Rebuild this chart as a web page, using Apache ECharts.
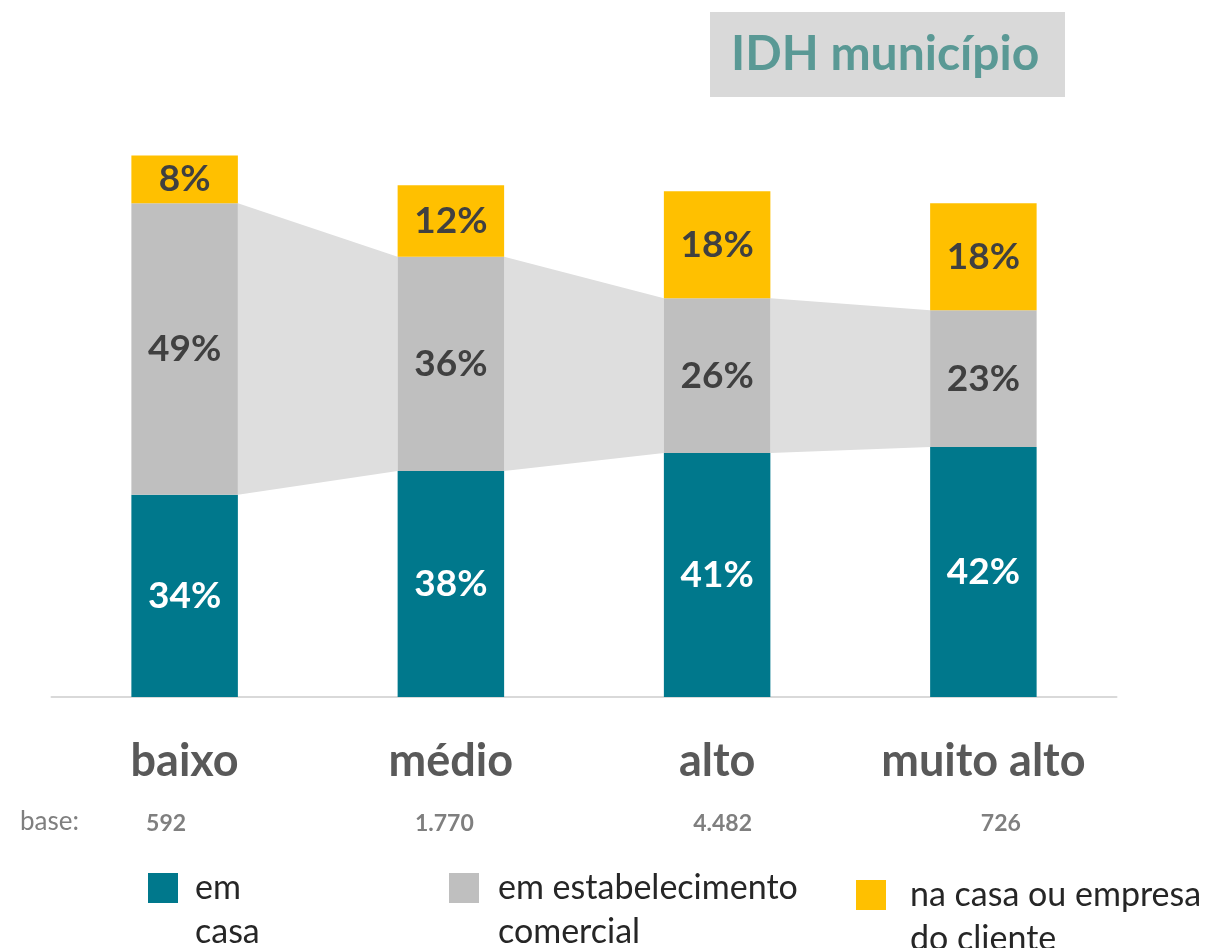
<!DOCTYPE html>
<html>
<head>
<meta charset="utf-8">
<script src="https://cdn.jsdelivr.net/npm/echarts@6/dist/echarts.min.js"></script>
<style>
  html, body { margin: 0; padding: 0; background: #fff; }
  #chart { width: 1212px; height: 948px; }
</style>
</head>
<body>
<div id="chart"></div>
<script>
// categorias (IDH do município) e bases
var categorias = ['baixo', 'médio', 'alto', 'muito alto'];
var bases = ['592', '1.770', '4.482', '726'];

// percentuais por local
var emCasa = [34, 38, 41, 42];
var emEstabelecimento = [49, 36, 26, 23];
var naCasaCliente = [8, 12, 18, 18];

var nomes = ['em casa', 'em estabelecimento comercial', 'na casa ou empresa do cliente'];
var rotulosLegenda = ['em\ncasa', 'em estabelecimento\ncomercial', 'na casa ou empresa\ndo cliente'];

var cores = ['#00788C', '#BFBFBF', '#FFC000'];
var fonte = 'Lato, "Open Sans", sans-serif';

var chart = echarts.init(document.getElementById('chart'));

// faixa cinza ligando os segmentos "em estabelecimento" de barras vizinhas
function desenhaFaixa(params, api) {
    var i = params.dataIndex;
    var hw = api.size([1, 0])[0] * 0.2;
    var a1 = api.coord([i, emCasa[i]]);
    var a2 = api.coord([i, emCasa[i] + emEstabelecimento[i]]);
    var b1 = api.coord([i + 1, emCasa[i + 1]]);
    var b2 = api.coord([i + 1, emCasa[i + 1] + emEstabelecimento[i + 1]]);
    return {
        type: 'polygon',
        shape: {
            points: [
                [a1[0] + hw, a1[1]],
                [a2[0] + hw, a2[1]],
                [b2[0] - hw, b2[1]],
                [b1[0] - hw, b1[1]]
            ]
        },
        style: { fill: '#DEDEDE' }
    };
}

// linha vazia no início: a 1a linha do texto fica alinhada ao ícone
function legenda(idx, left, top, gap) {
    return {
        data: [nomes[idx]],
        left: left,
        top: top,
        padding: 0,
        orient: 'vertical',
        itemWidth: 30,
        itemHeight: 30,
        icon: 'rect',
        selectedMode: false,
        formatter: function () { return ' \n' + rotulosLegenda[idx]; },
        textStyle: {
            fontFamily: fonte,
            fontSize: 34,
            color: '#262626',
            lineHeight: 44,
            padding: [0, 0, 0, gap]
        }
    };
}

var labelBase = {
    show: true,
    position: 'inside',
    formatter: '{c}%',
    fontFamily: fonte,
    fontWeight: 'bold',
    fontSize: 37,
    color: '#404040'
};

var option = {
    backgroundColor: '#ffffff',
    animation: false,
    grid: [
        { left: 51.5, right: 95.5, top: 102, bottom: 251 },
        { left: 27, right: 72, top: 800, height: 1 }
    ],
    xAxis: [{
        type: 'category',
        gridIndex: 0,
        data: categorias,
        axisLine: { lineStyle: { color: '#D9D9D9', width: 2 } },
        axisTick: { show: false },
        axisLabel: {
            margin: 39,
            fontFamily: fonte,
            fontWeight: 'bold',
            fontSize: 45,
            lineHeight: 50,
            color: '#595959'
        }
    }, {
        type: 'category',
        gridIndex: 1,
        data: bases,
        axisLine: { show: false },
        axisTick: { show: false },
        axisLabel: {
            margin: 9,
            fontFamily: fonte,
            fontWeight: 'bold',
            fontSize: 23,
            lineHeight: 28,
            color: '#7F7F7F'
        }
    }],
    yAxis: [
        { type: 'value', gridIndex: 0, min: 0, max: 100, show: false },
        { type: 'value', gridIndex: 1, show: false }
    ],
    legend: [
        legenda(0, 148, 822, 12),
        legenda(1, 449, 822, 14),
        legenda(2, 856, 829, 19)
    ],
    graphic: [{
        type: 'rect',
        shape: { x: 710, y: 12, width: 355, height: 85 },
        style: { fill: '#D9D9D9' }
    }, {
        type: 'text',
        left: 731,
        top: 31,
        style: {
            text: 'IDH município',
            fontFamily: fonte,
            fontWeight: 'bold',
            fontSize: 48,
            fill: '#5A9995'
        }
    }, {
        type: 'text',
        left: 20,
        top: 809,
        style: {
            text: 'base:',
            fontFamily: fonte,
            fontSize: 26,
            fill: '#7F7F7F'
        }
    }],
    series: [{
        type: 'custom',
        xAxisIndex: 0,
        yAxisIndex: 0,
        renderItem: desenhaFaixa,
        data: [[0, 0], [1, 0], [2, 0]],
        z: 1,
        silent: true
    }, {
        name: nomes[0],
        type: 'bar',
        stack: 'total',
        barWidth: '40%',
        data: emCasa,
        itemStyle: { color: cores[0] },
        label: Object.assign({}, labelBase, { color: '#ffffff' }),
        z: 2
    }, {
        name: nomes[1],
        type: 'bar',
        stack: 'total',
        data: emEstabelecimento,
        itemStyle: { color: cores[1] },
        label: labelBase,
        z: 2
    }, {
        name: nomes[2],
        type: 'bar',
        stack: 'total',
        data: naCasaCliente,
        itemStyle: { color: cores[2] },
        label: labelBase,
        z: 2
    }]
};

chart.setOption(option);
</script>
</body>
</html>
